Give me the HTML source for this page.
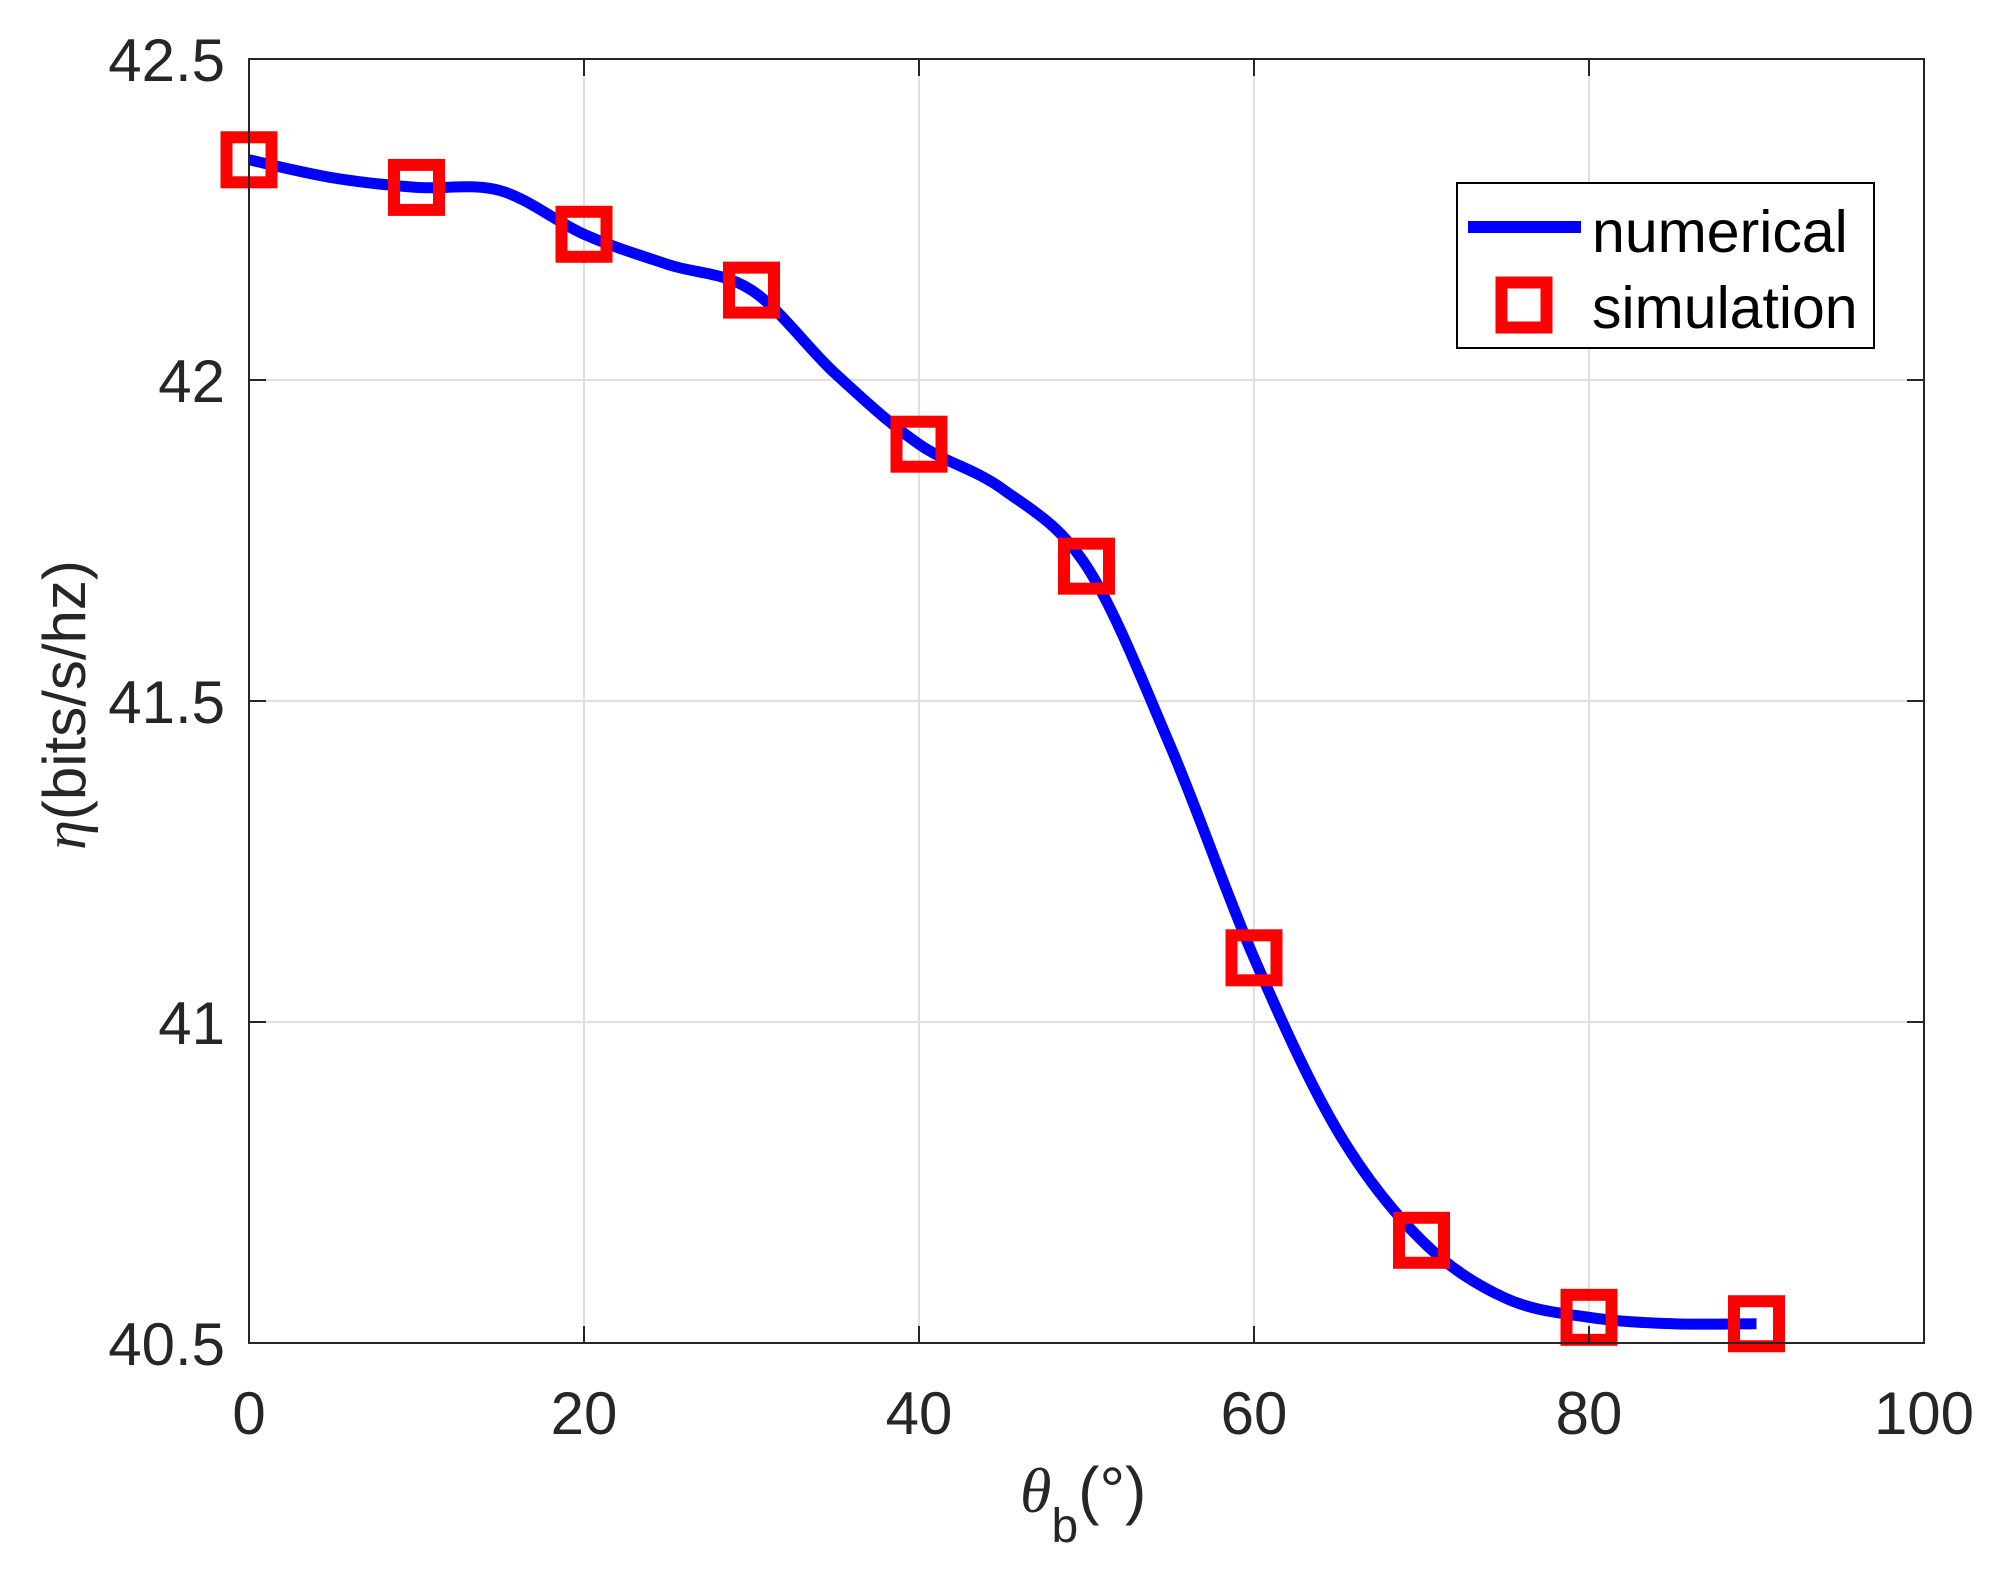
<!DOCTYPE html>
<html><head><meta charset="utf-8"><style>
html,body{margin:0;padding:0;background:#fff;}
svg{display:block;font-family:"Liberation Sans",Arial,sans-serif;}
</style></head><body>
<svg id="chart" width="2003" height="1576" viewBox="0 0 2003 1576">
<rect x="0" y="0" width="2003" height="1576" fill="#fff"/>
<g id="grid"></g>
<g id="series"></g>
<rect x="249" y="59" width="1675" height="1284" fill="none" stroke="#262626" stroke-width="2"/>
<g id="ticks"></g>
<text x="0" y="0" transform="translate(85,705) rotate(-90)" text-anchor="middle" font-size="60" fill="#262626"><tspan font-family="'Liberation Serif',serif" font-style="italic">η</tspan>(bits/s/hz)</text>
<text x="1020" y="1512" font-size="64" fill="#262626"><tspan font-family="'Liberation Serif',serif" font-style="italic">θ</tspan><tspan font-size="48" dy="30">b</tspan><tspan dy="-30">(°)</tspan></text>
<g>
<rect x="1457" y="183" width="417" height="165" fill="#fff" stroke="#000" stroke-width="2"/>
<line x1="1468" y1="227" x2="1581" y2="227" stroke="#0000ff" stroke-width="12"/>
<text x="1592" y="252" font-size="59" fill="#000">numerical</text>
<rect x="1501.5" y="282.5" width="45" height="45" fill="none" stroke="#ff0000" stroke-width="12"/>
<text x="1592" y="328" font-size="59" fill="#000">simulation</text>
</g>
</svg>
<script>
const xTicks = [0, 20, 40, 60, 80, 100];
const yTicks = [40.5, 41, 41.5, 42, 42.5];
const yTickLabels = ["40.5", "41", "41.5", "42", "42.5"];
const curveX = [0, 5, 10, 15, 20, 25, 30, 35, 40, 45, 50, 55, 60, 65, 70, 75, 80, 85, 90];
const curveY = [42.343, 42.315, 42.30, 42.295, 42.227, 42.18, 42.14, 42.01, 41.90, 41.83, 41.71, 41.43, 41.10, 40.83, 40.66, 40.57, 40.54, 40.53, 40.53];
const simX = [0, 10, 20, 30, 40, 50, 60, 70, 80, 90];
const simY = [42.343, 42.30, 42.227, 42.14, 41.90, 41.71, 41.10, 40.66, 40.54, 40.53];

const NS = "http://www.w3.org/2000/svg";
const L = 249, R = 1924, T = 59, B = 1343;
const xs = v => L + (v - 0) / 100 * (R - L);
const ys = v => B - (v - 40.5) / 2 * (B - T);
function mk(tag, attrs, parent) {
  const e = document.createElementNS(NS, tag);
  for (const k in attrs) e.setAttribute(k, attrs[k]);
  parent.appendChild(e);
  return e;
}
const grid = document.getElementById('grid');
const ticks = document.getElementById('ticks');
const series = document.getElementById('series');

xTicks.forEach(v => {
  const x = xs(v);
  if (v > 0 && v < 100) {
    const g = mk('line', {x1: x, y1: T, x2: x, y2: B, stroke: '#dfdfdf', 'stroke-width': 2}, grid);
    
    
  }
  const t1 = mk('line', {x1: x, y1: B, x2: x, y2: B - 17, stroke: '#262626', 'stroke-width': 2}, ticks);
  
  
  const t2 = mk('line', {x1: x, y1: T, x2: x, y2: T + 17, stroke: '#262626', 'stroke-width': 2}, ticks);
  
  
  const lb = mk('text', {x: x, y: 1434, 'text-anchor': 'middle', 'font-size': 60, fill: '#262626'}, ticks);
  lb.textContent = String(v);
  
  
});
yTicks.forEach((v, i) => {
  const y = ys(v);
  if (v > 40.5 && v < 42.5) {
    const g = mk('line', {x1: L, y1: y, x2: R, y2: y, stroke: '#dfdfdf', 'stroke-width': 2}, grid);
    
    
  }
  const t1 = mk('line', {x1: L, y1: y, x2: L + 17, y2: y, stroke: '#262626', 'stroke-width': 2}, ticks);
  
  
  const t2 = mk('line', {x1: R, y1: y, x2: R - 17, y2: y, stroke: '#262626', 'stroke-width': 2}, ticks);
  
  
  const lb = mk('text', {x: 225, y: y + 22, 'text-anchor': 'end', 'font-size': 60, fill: '#262626'}, ticks);
  lb.textContent = yTickLabels[i];
  
  
});

const pts = curveX.map((x, i) => [xs(x), ys(curveY[i])]);
let d = 'M' + pts[0][0] + ',' + pts[0][1];
for (let i = 0; i < pts.length - 1; i++) {
  const p0 = pts[Math.max(i - 1, 0)], p1 = pts[i], p2 = pts[i + 1], p3 = pts[Math.min(i + 2, pts.length - 1)];
  const c1 = [p1[0] + (p2[0] - p0[0]) / 6, p1[1] + (p2[1] - p0[1]) / 6];
  const c2 = [p2[0] - (p3[0] - p1[0]) / 6, p2[1] - (p3[1] - p1[1]) / 6];
  d += ' C' + c1[0] + ',' + c1[1] + ' ' + c2[0] + ',' + c2[1] + ' ' + p2[0] + ',' + p2[1];
}
const line = mk('path', {d: d, fill: 'none', stroke: '#0000ff', 'stroke-width': 11, 'stroke-linejoin': 'round'}, series);



simX.forEach((x, i) => {
  const cx = xs(x), cy = ys(simY[i]);
  const r = mk('rect', {x: cx - 22.5, y: cy - 22.5, width: 45, height: 45, fill: 'none', stroke: '#ff0000', 'stroke-width': 12}, series);
  
  
});
</script>
</body></html>
